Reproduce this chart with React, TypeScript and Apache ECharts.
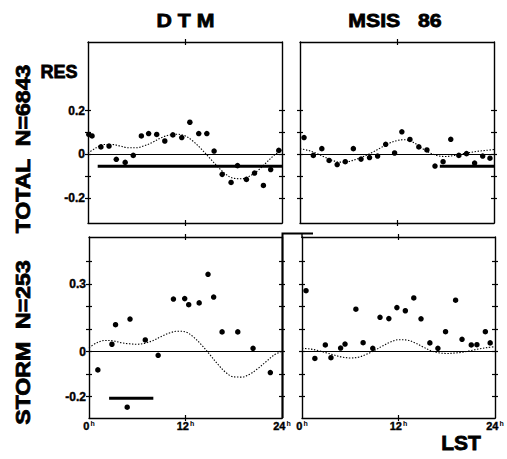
import React, { useEffect, useRef } from 'react';
import * as echarts from 'echarts';

// Local solar time (hours) of the hourly harmonic-fit samples
const HOURS = [0, 1, 2, 3, 4, 5, 6, 7, 8, 9, 10, 11, 12, 13, 14, 15, 16, 17, 18, 19, 20, 21, 22, 23, 24];

// Mean residuals [LST hour, residual] — TOTAL sample, DTM
const dtmTotalPts = [
  [0.1, 0.091], [0.5, 0.084], [1.6, 0.034], [2.6, 0.038], [3.5, -0.023], [4.6, -0.037],
  [5.6, -0.005], [6.6, 0.084], [7.5, 0.095], [8.5, 0.091], [9.5, 0.061], [10.5, 0.089],
  [11.6, 0.077], [12.6, 0.147], [13.7, 0.095], [14.7, 0.095], [15.6, 0.015], [16.6, -0.092],
  [17.7, -0.129], [18.5, -0.052], [19.6, -0.115], [20.6, -0.086], [21.7, -0.143], [22.6, -0.07],
  [23.6, 0.018],
];
// TOTAL sample, MSIS 86
const msisTotalPts = [
  [0.5, 0.077], [1.65, -0.005], [2.7, 0.026], [3.6, -0.028], [4.6, -0.047], [5.6, -0.034],
  [6.6, 0.026], [7.55, -0.022], [8.6, -0.015], [9.6, -0.008], [10.6, 0.046], [11.7, 0.006],
  [12.6, 0.103], [13.6, 0.068], [14.7, 0.034], [15.7, 0.02], [16.7, -0.054], [17.7, -0.034],
  [18.65, 0.069], [19.65, -0.005], [20.6, 0.003], [21.6, -0.04], [22.6, -0.008], [23.5, -0.018],
];
// STORM sample, DTM
const dtmStormPts = [
  [1.1, -0.081], [2.85, 0.033], [3.3, 0.12], [4.75, -0.247], [5.1, 0.145], [7.0, 0.052],
  [8.6, -0.016], [10.5, 0.234], [11.9, 0.236], [12.4, 0.209], [13.7, 0.217], [14.8, 0.344],
  [15.5, 0.243], [16.55, 0.088], [18.5, 0.088], [20.4, 0.015], [22.55, -0.093],
];
// STORM sample, MSIS 86
const msisStormPts = [
  [0.5, 0.271], [1.6, -0.03], [2.9, 0.03], [3.6, -0.027], [4.8, 0.016], [5.35, 0.034],
  [6.7, 0.189], [7.6, 0.04], [8.8, 0.015], [9.7, 0.153], [10.8, 0.147], [11.8, 0.196],
  [12.85, 0.182], [13.9, 0.239], [14.8, 0.146], [15.9, 0.039], [16.9, 0.015], [17.85, 0.089],
  [19.1, 0.229], [19.9, 0.055], [21.05, 0.03], [21.75, 0.031], [22.8, 0.089], [23.4, 0.039],
];

// Harmonic fits sampled at HOURS
const dtmTotalFit = [
  0.005, 0.03, 0.045, 0.045, 0.038, 0.03, 0.03, 0.04, 0.055, 0.075, 0.088, 0.092, 0.085,
  0.06, 0.025, -0.015, -0.055, -0.09, -0.11, -0.112, -0.1, -0.075, -0.04, -0.005, 0.02,
];
const msisTotalFit = [
  0.025, 0.018, 0.005, -0.012, -0.028, -0.036, -0.033, -0.022, -0.008, 0.01, 0.03, 0.05, 0.063,
  0.067, 0.055, 0.03, 0.008, -0.006, -0.01, -0.006, 0.002, 0.008, 0.014, 0.018, 0.022,
];
const dtmStormFit = [
  0.018, 0.04, 0.05, 0.048, 0.04, 0.035, 0.033, 0.038, 0.05, 0.068, 0.083, 0.091, 0.088,
  0.065, 0.03, -0.012, -0.055, -0.092, -0.112, -0.113, -0.1, -0.075, -0.045, -0.015, 0.002,
];
const msisStormFit = [
  0.015, 0.012, 0.005, -0.005, -0.015, -0.024, -0.028, -0.025, -0.012, 0.005, 0.025, 0.043, 0.053,
  0.052, 0.04, 0.022, 0.005, -0.005, -0.008, -0.006, -0.002, 0.005, 0.012, 0.018, 0.022,
];

// Heavy reference bars [start hour, level], [end hour, level]
const dtmTotalBar = [[1.2, -0.055], [24, -0.055]];
const msisTotalBar = [[17.3, -0.055], [24, -0.055]];
const dtmStormBar = [[2.5, -0.207], [8.0, -0.207]];

// Axis ticks and labels
const X_TICKS = [12];
const X_LABELS = [0, 12, 24];
const TOP_Y_TICKS = [-0.2, -0.1, 0, 0.1, 0.2];
const TOP_Y_LABELS = [-0.2, 0, 0.2];
const BOTTOM_Y_TICKS = [-0.2, -0.1, 0, 0.1, 0.2, 0.3, 0.4];
const BOTTOM_Y_LABELS = [-0.2, 0, 0.3];

const FONT = '"Liberation Sans", Arial, Helvetica, sans-serif';

type Panel = {
  grid: { left: number; top: number; width: number; height: number };
  yRange: [number, number];
  yTicks: number[];
  yLabels: number[] | null;
  xLabels: boolean;
  pts: number[][];
  fit: number[];
  bar: number[][] | null;
};

const panels: Panel[] = [
  { grid: { left: 88, top: 42, width: 194, height: 181 }, yRange: [-0.315, 0.515], yTicks: TOP_Y_TICKS, yLabels: TOP_Y_LABELS, xLabels: false, pts: dtmTotalPts, fit: dtmTotalFit, bar: dtmTotalBar },
  { grid: { left: 300, top: 42, width: 194, height: 181 }, yRange: [-0.315, 0.515], yTicks: TOP_Y_TICKS, yLabels: null, xLabels: false, pts: msisTotalPts, fit: msisTotalFit, bar: msisTotalBar },
  { grid: { left: 89, top: 237, width: 193, height: 181 }, yRange: [-0.295, 0.51], yTicks: BOTTOM_Y_TICKS, yLabels: BOTTOM_Y_LABELS, xLabels: true, pts: dtmStormPts, fit: dtmStormFit, bar: dtmStormBar },
  { grid: { left: 302, top: 237, width: 193, height: 181 }, yRange: [-0.295, 0.51], yTicks: BOTTOM_Y_TICKS, yLabels: null, xLabels: true, pts: msisStormPts, fit: msisStormFit, bar: null },
];

const AXIS_LINE = { color: '#000', width: 1.4 };

function buildOption() {
  const grid: any[] = [];
  const xAxis: any[] = [];
  const yAxis: any[] = [];
  const series: any[] = [];

  panels.forEach((p, i) => {
    grid.push({ ...p.grid, containLabel: false, outerBoundsMode: 'none' });

    // two axes per side: one with outward ticks, one with inward ticks -> crossing ticks
    (['bottom', 'top'] as const).forEach((pos) => {
      [false, true].forEach((inside) => {
        const withLabels = pos === 'bottom' && !inside && p.xLabels;
        xAxis.push({
          type: 'value', gridIndex: i, position: pos, min: 0, max: 24,
          axisLine: { show: !inside, onZero: false, lineStyle: AXIS_LINE },
          axisTick: { show: true, inside, length: 3, customValues: X_TICKS, lineStyle: { color: '#000', width: 1.2 } },
          axisLabel: withLabels
            ? {
                show: true, customValues: X_LABELS, margin: 2,
                formatter: (v: number) => `{n|${v}}{h|h}`,
                rich: {
                  n: { fontSize: 11, fontWeight: 'bold', fontFamily: FONT, color: '#000', textBorderColor: '#000', textBorderWidth: 0.4 },
                  h: { fontSize: 7, fontWeight: 'bold', fontFamily: FONT, color: '#000', verticalAlign: 'top', padding: [0, 0, 0, 1] },
                },
              }
            : { show: false },
          splitLine: { show: false },
        });
      });
    });

    (['left', 'right'] as const).forEach((pos) => {
      [false, true].forEach((inside) => {
        const withLabels = pos === 'left' && !inside && p.yLabels;
        yAxis.push({
          type: 'value', gridIndex: i, position: pos, min: p.yRange[0], max: p.yRange[1],
          axisLine: { show: !inside, onZero: false, lineStyle: AXIS_LINE },
          axisTick: { show: true, inside, length: 3, customValues: p.yTicks, lineStyle: { color: '#000', width: 1.2 } },
          axisLabel: withLabels
            ? {
                show: true, customValues: p.yLabels, margin: 3,
                fontSize: 12, fontWeight: 'bold', fontFamily: FONT, color: '#000',
                textBorderColor: '#000', textBorderWidth: 0.4,
                formatter: (v: number) => (v === 0 ? '0' : v.toFixed(1)),
              }
            : { show: false },
          splitLine: { show: false },
        });
      });
    });

    const xi = i * 4;
    const yi = i * 4;

    series.push({
      type: 'line', xAxisIndex: xi, yAxisIndex: yi,
      data: HOURS.map((h, k) => [h, p.fit[k]]),
      smooth: 0.35, showSymbol: false, silent: true,
      lineStyle: { color: '#000', width: 1.1, type: [1.4, 1.6] },
      markLine: {
        silent: true, symbol: 'none', label: { show: false },
        lineStyle: { color: '#000', width: 1, type: 'solid' },
        data: [{ yAxis: 0 }],
      },
      z: 2,
    });

    if (p.bar) {
      series.push({
        type: 'line', xAxisIndex: xi, yAxisIndex: yi, data: p.bar,
        showSymbol: false, silent: true,
        lineStyle: { color: '#000', width: 3 }, z: 3,
      });
    }

    series.push({
      type: 'scatter', xAxisIndex: xi, yAxisIndex: yi, data: p.pts,
      symbol: 'circle', symbolSize: 5.5, itemStyle: { color: '#000', opacity: 1 }, z: 4,
    });
  });

  const bigText = (text: string, x: number, y: number, size: number, extra: any = {}) => ({
    type: 'text', x, y, silent: true, ...extra,
    style: {
      text, fill: '#000', stroke: '#000', lineWidth: 0.8,
      font: `bold ${size}px ${FONT}`, align: 'center', verticalAlign: 'middle',
    },
  });

  const graphic = [
    bigText('D T M', 185.5, 20, 19, { scaleX: 1.12 }),
    bigText('MSIS   86', 395, 20, 19, { scaleX: 1.12 }),
    bigText('RES', 59, 72, 18),
    bigText('TOTAL  N=6843', 22.5, 149, 21, { rotation: Math.PI / 2, scaleX: 1.1 }),
    bigText('STORM  N=253', 22.5, 342.5, 21, { rotation: Math.PI / 2, scaleX: 1.1 }),
    bigText('LST', 461, 442, 21),
    {
      type: 'polyline', silent: true,
      shape: { points: [[282.5, 418], [282.5, 233.5], [313, 233.5]] },
      style: { stroke: '#000', lineWidth: 2, fill: 'none' },
    },
    {
      type: 'line', silent: true,
      shape: { x1: 302, y1: 233, x2: 302, y2: 238 },
      style: { stroke: '#000', lineWidth: 1.4 },
    },
  ];

  return { animation: false, backgroundColor: '#fff', grid, xAxis, yAxis, series, graphic };
}

export default function App() {
  const ref = useRef<HTMLDivElement>(null);
  useEffect(() => {
    if (!ref.current) return;
    const chart = echarts.init(ref.current, null, { renderer: 'svg' });
    chart.setOption(buildOption() as any);
    return () => chart.dispose();
  }, []);
  return <div ref={ref} style={{ position: 'absolute', left: 0, top: 0, width: 507, height: 459 }} />;
}
